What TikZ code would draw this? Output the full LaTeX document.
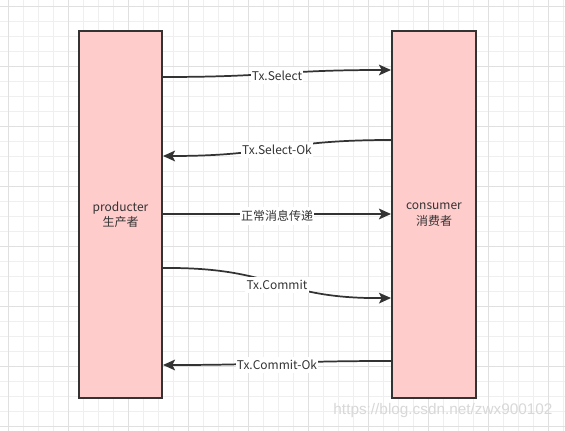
\documentclass[tikz,border=0pt]{standalone}
\usepackage{fontspec}
\setmainfont{Noto Sans CJK SC}
\newfontfamily\wmfont{Liberation Sans}
\usetikzlibrary{calc,arrows.meta}
\definecolor{boxfill}{HTML}{FFCCCC}
\definecolor{ink}{HTML}{333333}
\definecolor{gridminor}{HTML}{EFEFEF}
\definecolor{gridmajor}{HTML}{E0E0E0}
\definecolor{wmark}{HTML}{D8D8D8}
\begin{document}
\begin{tikzpicture}[x=0.75pt,y=-0.75pt,
  box/.style={draw=ink, line width=1.5pt, fill=boxfill, minimum height=275.25pt,
    inner sep=0pt, text=ink, align=center, font=\fontsize{9}{11.5}\selectfont},
  msg/.style={draw=ink, line width=1.3pt, -{Stealth[length=9pt,width=8pt,inset=2pt]}},
  lbl/.style={fill=white, inner xsep=1pt, inner ysep=2.5pt, text=ink, yshift=-1.5pt, font=\fontsize{9}{11}\selectfont}
]
\useasboundingbox (0,0) rectangle (565,431);
\fill[white] (0,0) rectangle (565,431);
% grid
\foreach \x in {8,23,...,563} \draw[gridminor, line width=0.75pt] (\x,0) -- (\x,431);
\foreach \y in {7,22,...,430} \draw[gridminor, line width=0.75pt] (0,\y) -- (565,\y);
\foreach \x in {8,68,...,563} \draw[gridmajor, line width=0.75pt] (\x,0) -- (\x,431);
\foreach \y in {7,67,...,430} \draw[gridmajor, line width=0.75pt] (0,\y) -- (565,\y);
% boxes
\node[box, minimum width=62.25pt] (prod) at (120.5,214.5) {producter\\生产者};
\node[box, minimum width=63pt] (cons) at (434,214.5) {consumer\\消费者};
% coordinates on the borders
\coordinate (p1) at ($(prod.north east)+(0,47)$);
\coordinate (c1) at ($(cons.north west)+(0,40)$);
\coordinate (c2) at ($(cons.north west)+(0,110)$);
\coordinate (p2) at ($(prod.north east)+(0,126)$);
\coordinate (p3) at ($(prod.north east)+(0,184)$);
\coordinate (c3) at ($(cons.north west)+(0,184)$);
\coordinate (p4) at ($(prod.north east)+(0,238)$);
\coordinate (c4) at ($(cons.north west)+(0,268)$);
\coordinate (c5) at ($(cons.north west)+(0,331)$);
\coordinate (p5) at ($(prod.north east)+(0,335)$);
% messages
\draw[msg] (p1) .. controls ($(p1)!0.5!(c1)+(0,3.5)$) and ($(p1)!0.5!(c1)+(0,-3.5)$) .. (c1)
  node[lbl, pos=0.5] (l1) {Tx.Select};
\draw[msg] (c2) .. controls ($(c2)!0.5!(p2)+(0,-8)$) and ($(c2)!0.5!(p2)+(0,8)$) .. (p2)
  node[lbl, pos=0.5] (l2) {Tx.Select-Ok};
\draw[msg] (p3) -- (c3) node[lbl, pos=0.5] (l3) {正常消息传递};
\draw[msg] (p4) .. controls ($(p4)!0.5!(c4)+(0,-16)$) and ($(p4)!0.5!(c4)+(0,16)$) .. (c4)
  node[lbl, pos=0.5] (l4) {Tx.Commit};
\draw[msg] (c5) .. controls ($(c5)!0.5!(p5)+(0,-2)$) and ($(c5)!0.5!(p5)+(0,2)$) .. (p5)
  node[lbl, pos=0.5] (l5) {Tx.Commit-Ok};
% watermark
\node[text=wmark, font=\wmfont\fontsize{11.5}{14}\selectfont, inner sep=0pt] (wm) at (443,411) {https://blog.csdn.net/zwx900102};
\end{tikzpicture}
\end{document}
